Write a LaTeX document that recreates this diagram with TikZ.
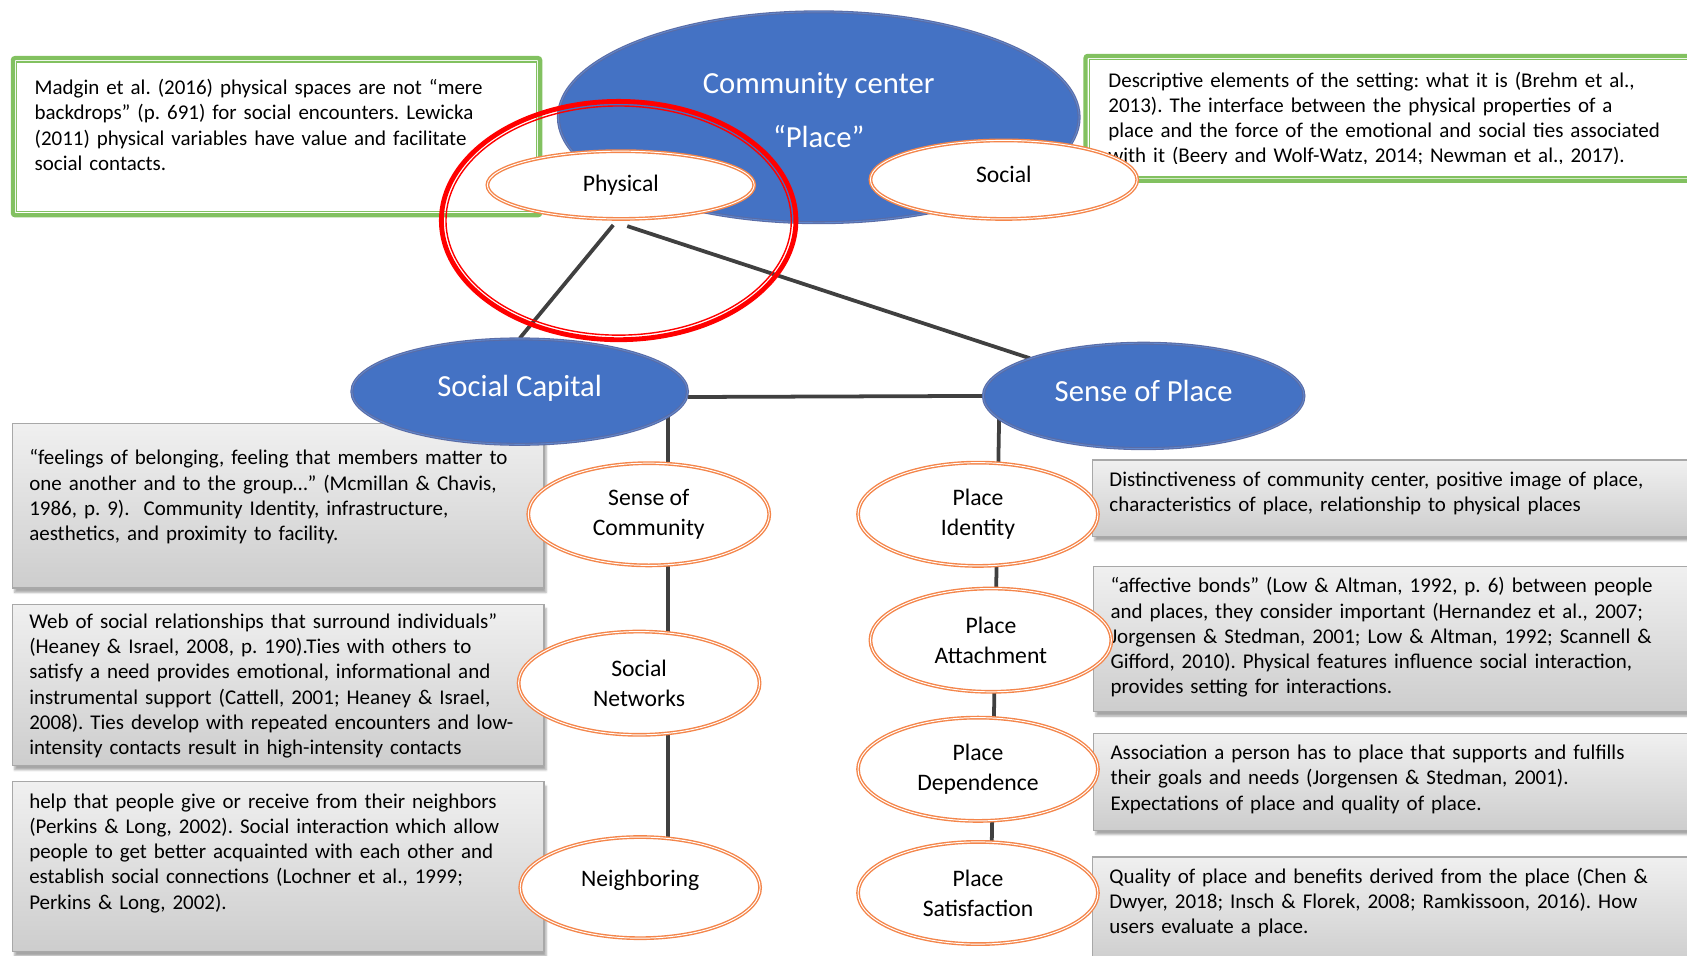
\documentclass[tikz,border=0pt]{standalone}
\usepackage{fontspec}
\setmainfont{Carlito}
\usetikzlibrary{shapes.geometric,shadows.blur,backgrounds}
\definecolor{cblue}{HTML}{4472C4}
\definecolor{cblueedge}{HTML}{5A6CA6}
\definecolor{cgreen}{HTML}{82C160}
\definecolor{corange}{HTML}{F4854A}
\definecolor{clink}{HTML}{404040}
\definecolor{cboxedge}{HTML}{A8A8A8}
\definecolor{cboxtop}{HTML}{F0F0F0}
\definecolor{cboxbot}{HTML}{CDCDCD}
\frenchspacing

\begin{document}
\begin{tikzpicture}[x=1pt,y=-1pt,
  body/.style={font=\fontsize{19.5}{23.5}\selectfont, anchor=base west, inner sep=0pt, align=left},
  greybox/.style={draw=cboxedge, line width=1.2pt, top color=cboxtop, bottom color=cboxbot,
    anchor=north west, inner sep=0pt,
    blur shadow={shadow xshift=2pt, shadow yshift=-4pt, shadow opacity=35}},
  greenbox/.style={draw=cgreen, line width=4pt, rounded corners=2pt, fill=white, anchor=north west, inner sep=0pt},
  bigell/.style={ellipse, fill=cblue, draw=cblueedge, line width=1pt, double=cblue!85!white,
    double distance=0.8pt, text=white, align=center, inner sep=0pt},
  ell/.style={ellipse, fill=white, draw=corange, line width=1.3pt, double=white, double distance=0.9pt,
    font=\fontsize{22}{28}\selectfont, align=center, inner sep=0pt},
  link/.style={draw=clink, line width=3.5pt},
]
\useasboundingbox (0,0) rectangle (1568,888);
\clip (0,0) rectangle (1568,888);

% ---- quotation boxes at the top (double green frame) ----
\node[greenbox, minimum width=490, minimum height=146] (lgreen) at (10,52) {};
\draw[cgreen, line width=1.4pt] ([shift={(5.5,5.5)}]lgreen.north west) rectangle ([shift={(-5.5,-5.5)}]lgreen.south east);
\node[body, text width=470] (lgtext) at (32,88) {Madgin et al. (2016) physical spaces are not “mere\\
backdrops” (p. 691) for social encounters. Lewicka\\
(2011) physical variables have value and facilitate\\
social contacts.};

\node[greenbox, minimum width=600, minimum height=116] (rgreen) at (1007,50) {};
\draw[cgreen, line width=1.4pt] ([shift={(5.5,5.5)}]rgreen.north west) rectangle ([shift={(-5.5,-5.5)}]rgreen.south east);
\begin{scope}
  \clip (1013,56) rectangle (1568,152);
  \node[body, text width=540] (rgtext) at (1030,81) {Descriptive elements of the setting: what it is (Brehm et al.,\\
  2013). The interface between the physical properties of a\\
  place and the force of the emotional and social ties associated\\
  with it (Beery and Wolf-Watz, 2014; Newman et al., 2017).};
\end{scope}

% ---- grey definition boxes, left column ----
\node[greybox, minimum width=494, minimum height=153] (b1) at (11,393) {};
\node[body, text width=470] (t1) at (27,432) {“feelings of belonging, feeling that members matter to\\
one another and to the group…” (Mcmillan \& Chavis,\\
1986, p. 9).\ \ Community Identity, infrastructure,\\
aesthetics, and proximity to facility.};

\node[greybox, minimum width=494, minimum height=150] (b2) at (11,561) {};
\begin{scope}
  \clip (11,561) rectangle (505,704);
  \node[body, text width=470] (t2) at (27,584) {Web of social relationships that surround individuals”\\
  (Heaney \& Israel, 2008, p. 190).Ties with others to\\
  satisfy a need provides emotional, informational and\\
  instrumental support (Cattell, 2001; Heaney \& Israel,\\
  2008). Ties develop with repeated encounters and low-\\
  intensity contacts result in high-intensity contacts};
\end{scope}

\node[greybox, minimum width=494, minimum height=158] (b3) at (11,726) {};
\node[body, text width=470] (t3) at (27,751) {help that people give or receive from their neighbors\\
(Perkins \& Long, 2002). Social interaction which allow\\
people to get better acquainted with each other and\\
establish social connections (Lochner et al., 1999;\\
Perkins \& Long, 2002).};

% ---- grey definition boxes, right column ----
\node[greybox, minimum width=600, minimum height=71] (b4) at (1015,427) {};
\node[body, text width=540] (t4) at (1031,452) {Distinctiveness of community center, positive image of place,\\
characteristics of place, relationship to physical places};

\node[greybox, minimum width=600, minimum height=135] (b5) at (1016,526) {};
\node[body, text width=540] (t5) at (1032,551) {“affective bonds” (Low \& Altman, 1992, p. 6) between people\\
and places, they consider important (Hernandez et al., 2007;\\
Jorgensen \& Stedman, 2001; Low \& Altman, 1992; Scannell \&\\
Gifford, 2010). Physical features influence social interaction,\\
provides setting for interactions.};

\node[greybox, minimum width=600, minimum height=90] (b6) at (1016,681) {};
\node[body, text width=540] (t6) at (1032,706) {Association a person has to place that supports and fulfills\\
their goals and needs (Jorgensen \& Stedman, 2001).\\
Expectations of place and quality of place.};

\node[greybox, minimum width=600, minimum height=100] (b7) at (1015,796) {};
\node[body, text width=540] (t7) at (1031,821) {Quality of place and benefits derived from the place (Chen \&\\
Dwyer, 2018; Insch \& Florek, 2008; Ramkissoon, 2016). How\\
users evaluate a place.};

% ---- concept ellipses ----
\node[bigell, minimum width=484, minimum height=196, text depth=14pt, font=\fontsize{28.5}{50}\selectfont] (cc) at (761,109) {Community center\\“Place”};
\node[ell, minimum width=248, minimum height=63] (phys) at (577,172) {Physical};
\node[ell, minimum width=248, minimum height=73, text depth=10pt] (soc) at (933,167) {Social};

\node[bigell, minimum width=312, minimum height=98, text depth=10pt, font=\fontsize{28.5}{34}\selectfont] (sc) at (483,364) {Social Capital};
\node[bigell, minimum width=298, minimum height=98, text depth=10pt, font=\fontsize{28.5}{34}\selectfont] (sop) at (1063,368) {Sense of Place};

\node[ell, minimum width=224, minimum height=95] (scom) at (603,478) {Sense of\\Community};
\node[ell, minimum width=224, minimum height=96] (snet) at (594,635) {Social\\Networks};
\node[ell, minimum width=223, minimum height=94, text depth=18pt] (neigh) at (595,825) {Neighboring};

\node[ell, minimum width=223, minimum height=96] (pid) at (909,478) {Place\\Identity};
\node[ell, minimum width=224, minimum height=96] (patt) at (921,595) {Place\\Attachment};
\node[ell, minimum width=223, minimum height=96] (pdep) at (909,715) {Place\\Dependence};
\node[ell, minimum width=223, minimum height=95] (psat) at (909,830) {Place\\Satisfaction};

% ---- red highlight ring round the physical dimension ----
\node[ellipse, draw=red, line width=4.5pt, minimum width=329.5, minimum height=221.5, inner sep=0pt] (ring) at (575,205) {};
\draw[red, line width=1.3pt] (ring.center) ellipse [x radius=160.5, y radius=106.5];

% ---- connectors, kept behind the shapes ----
\coordinate (lx) at (621,0);
\coordinate (rtop) at (929,368);
\coordinate (rbot) at (921,830);
\begin{scope}[on background layer]
  \draw[link] ([shift={(-7,5)}]phys.south) -- (sc.north);
  \draw[link] ([shift={(6,6)}]phys.south) -- (sop.north west);
  \draw[link] ([yshift=-5pt]sc.east) -- (sop.west);
  \draw[link] (sc.center -| lx) -- (neigh.center -| lx);
  \draw[link] (rtop) -- (rbot);
\end{scope}
\end{tikzpicture}
\end{document}
